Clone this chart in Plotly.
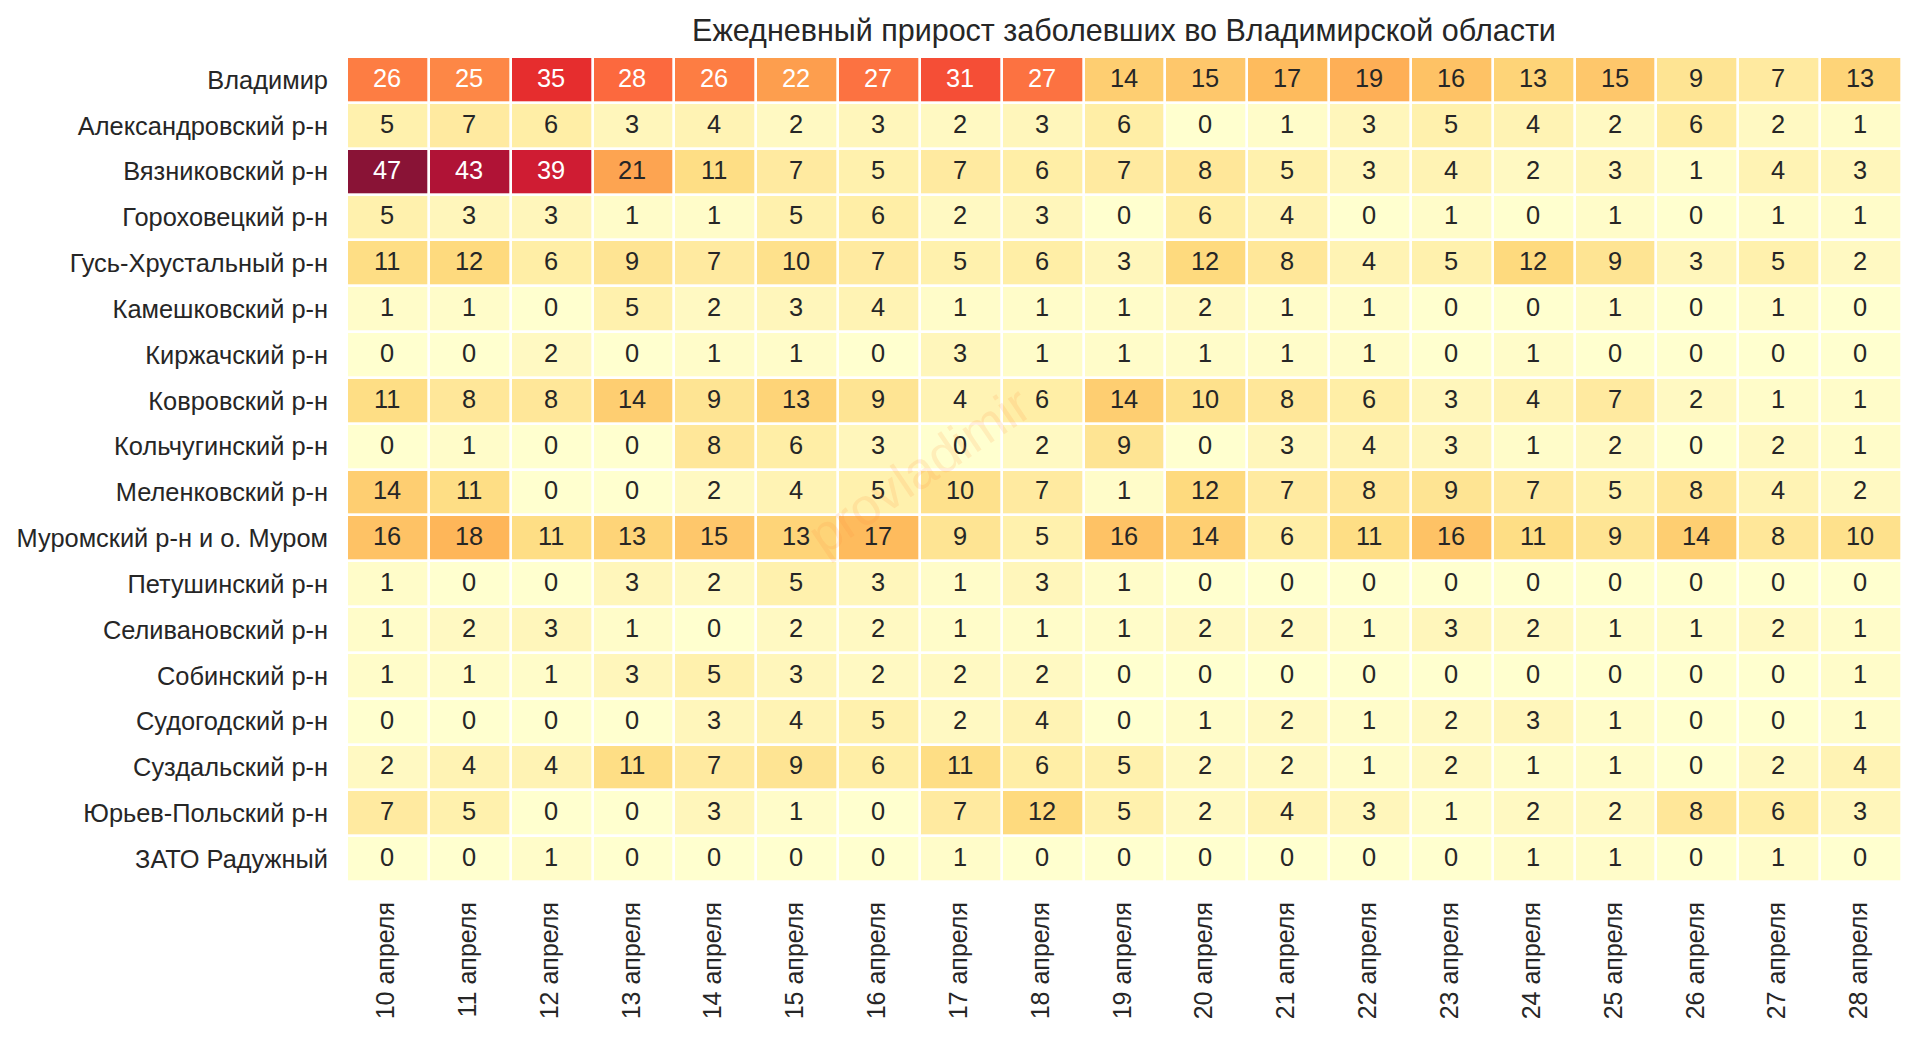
import plotly.graph_objects as go

districts = [
    "Владимир", "Александровский р-н", "Вязниковский р-н", "Гороховецкий р-н",
    "Гусь-Хрустальный р-н", "Камешковский р-н", "Киржачский р-н", "Ковровский р-н",
    "Кольчугинский р-н", "Меленковский р-н", "Муромский р-н и о. Муром",
    "Петушинский р-н", "Селивановский р-н", "Собинский р-н", "Судогодский р-н",
    "Суздальский р-н", "Юрьев-Польский р-н", "ЗАТО Радужный",
]
days = [
    "10 апреля", "11 апреля", "12 апреля", "13 апреля", "14 апреля", "15 апреля",
    "16 апреля", "17 апреля", "18 апреля", "19 апреля", "20 апреля", "21 апреля",
    "22 апреля", "23 апреля", "24 апреля", "25 апреля", "26 апреля", "27 апреля",
    "28 апреля",
]
cases = [
    [26, 25, 35, 28, 26, 22, 27, 31, 27, 14, 15, 17, 19, 16, 13, 15, 9, 7, 13],
    [5, 7, 6, 3, 4, 2, 3, 2, 3, 6, 0, 1, 3, 5, 4, 2, 6, 2, 1],
    [47, 43, 39, 21, 11, 7, 5, 7, 6, 7, 8, 5, 3, 4, 2, 3, 1, 4, 3],
    [5, 3, 3, 1, 1, 5, 6, 2, 3, 0, 6, 4, 0, 1, 0, 1, 0, 1, 1],
    [11, 12, 6, 9, 7, 10, 7, 5, 6, 3, 12, 8, 4, 5, 12, 9, 3, 5, 2],
    [1, 1, 0, 5, 2, 3, 4, 1, 1, 1, 2, 1, 1, 0, 0, 1, 0, 1, 0],
    [0, 0, 2, 0, 1, 1, 0, 3, 1, 1, 1, 1, 1, 0, 1, 0, 0, 0, 0],
    [11, 8, 8, 14, 9, 13, 9, 4, 6, 14, 10, 8, 6, 3, 4, 7, 2, 1, 1],
    [0, 1, 0, 0, 8, 6, 3, 0, 2, 9, 0, 3, 4, 3, 1, 2, 0, 2, 1],
    [14, 11, 0, 0, 2, 4, 5, 10, 7, 1, 12, 7, 8, 9, 7, 5, 8, 4, 2],
    [16, 18, 11, 13, 15, 13, 17, 9, 5, 16, 14, 6, 11, 16, 11, 9, 14, 8, 10],
    [1, 0, 0, 3, 2, 5, 3, 1, 3, 1, 0, 0, 0, 0, 0, 0, 0, 0, 0],
    [1, 2, 3, 1, 0, 2, 2, 1, 1, 1, 2, 2, 1, 3, 2, 1, 1, 2, 1],
    [1, 1, 1, 3, 5, 3, 2, 2, 2, 0, 0, 0, 0, 0, 0, 0, 0, 0, 1],
    [0, 0, 0, 0, 3, 4, 5, 2, 4, 0, 1, 2, 1, 2, 3, 1, 0, 0, 1],
    [2, 4, 4, 11, 7, 9, 6, 11, 6, 5, 2, 2, 1, 2, 1, 1, 0, 2, 4],
    [7, 5, 0, 0, 3, 1, 0, 7, 12, 5, 2, 4, 3, 1, 2, 2, 8, 6, 3],
    [0, 0, 1, 0, 0, 0, 0, 1, 0, 0, 0, 0, 0, 0, 1, 1, 0, 1, 0],
]
ylorrd = ["#ffffcc", "#ffeda0", "#fed976", "#feb24c", "#fd8d3c",
          "#fc4e2a", "#e31a1c", "#bd0026", "#800026"]

FONT = "Liberation Sans"
# страница добавляет отступ 8 px, поэтому фигура чуть меньше окна
W, H = 1904, 1022
LEFT, RIGHT, TOP, BOTTOM = 339, 1894, 49, 874

colorscale = [[i / (len(ylorrd) - 1), c] for i, c in enumerate(ylorrd)]

fig = go.Figure(go.Heatmap(
    z=cases, x=days, y=districts,
    colorscale=colorscale, zmin=0, zmax=47, opacity=0.92,
    xgap=2.7, ygap=2.7, showscale=False,
))

# подписи в ячейках: белые на тёмном фоне
for row, name in zip(cases, districts):
    for day, value in zip(days, row):
        fig.add_annotation(
            x=day, y=name, text=str(value), showarrow=False, yshift=2, xshift=-1,
            font=dict(family=FONT, size=25.4, color="#ffffff" if value >= 22 else "#262626"),
        )

# водяной знак
fig.add_annotation(
    x=(911 - LEFT) / (RIGHT - LEFT), y=(BOTTOM - 462) / (BOTTOM - TOP),
    xref="paper", yref="paper", text="provladimir", showarrow=False,
    textangle=-34, font=dict(family=FONT, size=52, color="rgba(253,141,60,0.15)"),
)

fig.update_layout(
    width=W, height=H, autosize=False,
    margin=dict(l=LEFT, r=W - RIGHT, t=TOP, b=H - BOTTOM),
    paper_bgcolor="white", plot_bgcolor="white",
    font=dict(family=FONT, color="#262626"),
    title=dict(text="Ежедневный прирост заболевших во Владимирской области",
               x=1116 / W, xanchor="center", y=1 - 22.5 / H, yanchor="middle",
               font=dict(family=FONT, size=30.5, color="#262626")),
)
fig.update_xaxes(tickangle=-90, ticks="", showgrid=False, zeroline=False, showline=False,
                 tickfont=dict(family=FONT, size=25, color="#262626"), ticklabelstandoff=14,
                 ticklabelshift=-2, automargin=False)
fig.update_yaxes(autorange="reversed", ticks="", showgrid=False, zeroline=False, showline=False,
                 tickfont=dict(family=FONT, size=25.4, color="#262626"), ticklabelstandoff=18,
                 automargin=False)

fig.write_html("out.html")
